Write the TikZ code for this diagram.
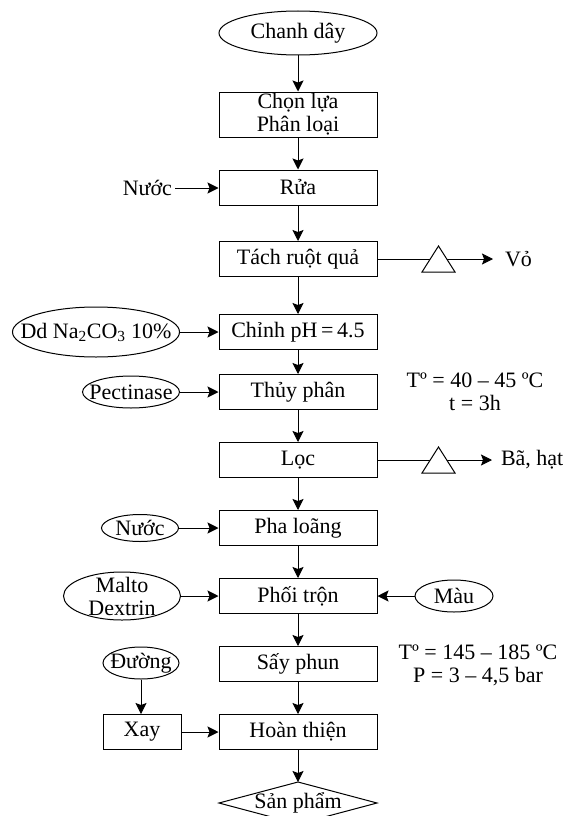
\documentclass[tikz,border=0pt]{standalone}
\usepackage{fontspec}
\setmainfont{Liberation Serif}
\usetikzlibrary{arrows.meta,shapes.geometric}
\begin{document}
\begin{tikzpicture}[x=1pt,y=-1pt,
  font=\fontsize{22}{23}\selectfont,
  line width=1pt,
  stepbox/.style={draw, rectangle, minimum width=158pt, minimum height=35pt, inner sep=0pt, align=center},
  oval/.style={draw, ellipse, inner sep=0pt},
  arr/.style={-{Stealth[length=11pt,width=11pt,inset=2pt]}},
  txt/.style={inner sep=2.5pt},
  tri/.style={draw, fill=white, line join=miter}
]
\useasboundingbox (0,0) rectangle (566,816);

% main column
\node[oval, minimum width=158pt, minimum height=44pt, label=center:{Chanh dây}] (cd) at (298,33) {};
\node[stepbox, minimum height=45pt] (chon) at (298,114.5) {Chọn lựa\\Phân loại};
\node[stepbox] (rua) at (298,187.5) {Rửa};
\node[stepbox] (tach) at (298,259) {Tách ruột quả};
\node[stepbox] (chinh) at (298,332) {Chỉnh pH\,=\,4.5};
\node[stepbox] (thuy) at (298,392) {Thủy phân};
\node[stepbox] (loc) at (298,460) {Lọc};
\node[stepbox] (pha) at (298,528) {Pha loãng};
\node[stepbox] (phoi) at (298,596) {Phối trộn};
\node[stepbox] (say) at (298,664) {Sấy phun};
\node[stepbox] (hoan) at (298,732) {Hoàn thiện};
\coordinate (sptop) at (298,782);
\node[txt] (sp) at (298,803) {Sản phẩm};
\draw (219,803) -- (sptop) -- (377,803) -- (298,824) -- cycle;

% side inputs
\node[txt, anchor=east] (nuoc1) at (175,188) {Nước};
\node[oval, minimum width=167pt, minimum height=50pt, label=center:{Dd Na\textsubscript{2}CO\textsubscript{3} 10\%}] (na) at (96,332) {};
\node[oval, minimum width=97pt, minimum height=32pt, label=center:Pectinase] (pec) at (131,392) {};
\node[oval, minimum width=77pt, minimum height=27pt, label=center:Nước] (nuoc2) at (140,528) {};
\node[oval, minimum width=117pt, minimum height=48pt, label={[align=center]center:{Malto\\Dextrin}}] (malto) at (122,596) {};
\node[oval, minimum width=78pt, minimum height=32pt, label=center:Màu] (mau) at (454,596) {};
\node[oval, minimum width=76pt, minimum height=32pt, label=center:Đường] (duong) at (141,663) {};
\node[stepbox, minimum width=78pt] (xay) at (142,732) {Xay};

% outputs
\coordinate (voend) at (493,259);
\node[txt, anchor=west] (vo) at (502,259) {Vỏ};
\coordinate (baend) at (492,460);
\node[txt, anchor=west] (ba) at (498,460) {Bã, hạt};

% conditions
\node[txt, align=center] (c1) at (475,392) {Tº = 40 – 45 ºC\\t = 3h};
\node[txt, align=center] (c2) at (478,665) {Tº = 145 – 185 ºC\\P = 3 – 4,5 bar};

% main arrows
\draw[arr] (cd) -- (chon);
\draw[arr] (chon) -- (rua);
\draw[arr] (rua) -- (tach);
\draw[arr] (tach) -- (chinh);
\draw[arr] (chinh) -- (thuy);
\draw[arr] (thuy) -- (loc);
\draw[arr] (loc) -- (pha);
\draw[arr] (pha) -- (phoi);
\draw[arr] (phoi) -- (say);
\draw[arr] (say) -- (hoan);
\draw[arr] (hoan) -- (sptop);

% side arrows
\draw[arr] (nuoc1.east) -- (nuoc1.east -| rua.west);
\draw[arr] (na.east) -- (na.east -| chinh.west);
\draw[arr] (pec.east) -- (pec.east -| thuy.west);
\draw[arr] (nuoc2.east) -- (nuoc2.east -| pha.west);
\draw[arr] (malto.east) -- (malto.east -| phoi.west);
\draw[arr] (mau.west) -- (mau.west -| phoi.east);
\draw[arr] (duong.south) -- (duong.south |- xay.north);
\draw[arr] (xay.east) -- (xay.east -| hoan.west);

% waste outputs with triangles
\draw[arr] (tach.east) -- (voend);
\draw[tri] (422,272) -- (438.5,246) -- (455,272) -- cycle;
\draw[arr] (loc.east) -- (baend);
\draw[tri] (422,473) -- (438.5,447) -- (455,473) -- cycle;
\end{tikzpicture}
\end{document}
